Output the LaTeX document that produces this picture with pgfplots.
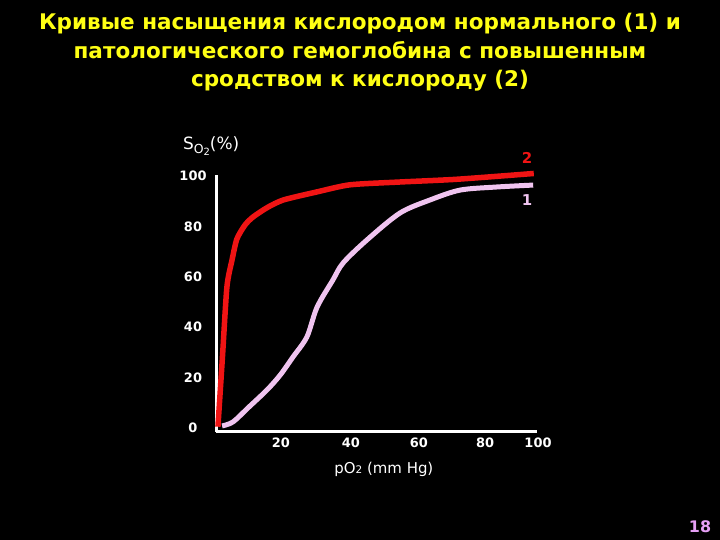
\documentclass[border=0pt]{standalone}
\usepackage{fontspec}
\setmainfont{DejaVu Sans}
\usepackage{pgfplots}
\pgfplotsset{compat=1.18}
\definecolor{ttl}{RGB}{255,255,20}
\definecolor{curvetwo}{RGB}{240,20,20}
\definecolor{curveone}{RGB}{240,196,240}
\definecolor{slidenum}{RGB}{230,160,245}

\begin{document}
\begin{tikzpicture}[x=1bp,y=1bp]
\fill[black] (0,0) rectangle (720,540);
\useasboundingbox (0,0) rectangle (720,540);

\node[font=\fontsize{21.6}{28.5}\selectfont\bfseries, text=ttl, align=center, anchor=north]
  at (360,530) {Кривые насыщения кислородом нормального (1) и\\
  патологического гемоглобина с повышенным\\
  сродством к кислороду (2)};

\begin{axis}[
  at={(216bp,108bp)}, anchor=south west,
  scale only axis, width=321bp, height=257bp,
  xmin=0, xmax=100, ymin=-1.6, ymax=100.4,
  axis lines=left,
  axis line style={-, white, line width=3bp},
  tick style={draw=none},
  major tick length=0pt,
  font=\fontsize{13}{15}\selectfont\bfseries,
  ticklabel style={text=white},
  xtick={19.9,41.7,62.9,83.5,100}, xticklabels={20,40,60,80,100},
  ytick={0,20,40,60,80,100}, yticklabels={0,20,40,60,80,100},
  yticklabel style={anchor=center, xshift=-23bp},
  xticklabel style={yshift=-2bp, xshift=1bp},
  clip=false,
]
\addplot[curveone, line width=5bp, smooth, tension=0.5] coordinates {
 (1.9,0.8) (5.3,2.4) (10,8) (15.9,15.1) (20,21) (24,28.2) (28.3,36.1)
 (31.5,48) (36.4,58.7) (39.6,65.5) (47,74.6) (57.3,85.3) (66.7,90.5)
 (76,94.4) (87,95.6) (98.8,96.4)};
\addplot[curvetwo, line width=5.5bp, smooth, tension=0.4] coordinates {
 (0.6,0.5) (2,28) (3.4,56) (5,66.7) (6.5,75) (9,80.5) (11.5,83.7)
 (16,87.5) (21,90.5) (31.5,93.7) (41.7,96.5) (57,97.6) (75,98.7) (99,101)};

\node[text=curvetwo, font=\fontsize{15}{17}\selectfont\bfseries] at (axis cs:96.9,107) {2};
\node[text=curveone, font=\fontsize{15}{17}\selectfont\bfseries] at (axis cs:96.9,90.5) {1};
\node[text=white, font=\fontsize{17}{19}\selectfont] at (axis cs:-1.5,112)
  {S\raisebox{-0.45ex}{\fontsize{12.5}{14}\selectfont O\raisebox{-0.25ex}{\fontsize{10}{12}\selectfont 2}}(\%)};
\node[text=white, font=\fontsize{15}{17}\selectfont] at (axis cs:52.3,-16.5)
  {pO{\fontsize{10.5}{12}\selectfont 2} (mm Hg)};
\end{axis}

\node[text=slidenum, font=\fontsize{16}{18}\selectfont\bfseries] at (700,13) {18};
\end{tikzpicture}
\end{document}
